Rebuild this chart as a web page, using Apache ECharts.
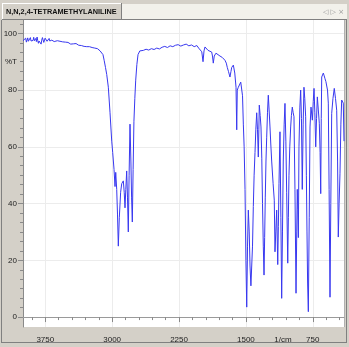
<!DOCTYPE html>
<html><head><meta charset="utf-8">
<script src="https://cdn.jsdelivr.net/npm/echarts@6/dist/echarts.min.js"></script>
<style>html,body{margin:0;padding:0;background:#d4d0c8;}#c{width:349px;height:347px;}</style>
</head><body><div id="c"></div>
<script>
const chartTitle = 'N,N,2,4-TETRAMETHYLANILINE';
const yAxisTitle = '%T';
const xAxisUnit = '1/cm';
const xTickLabels = [3750, 3000, 2250, 1500, 750];
const yTickLabels = [0, 20, 40, 60, 80, 100];
const wavenumber = [
4000,3992,3985,3978,3970,3962,3955,3947,3940,3932,3925,3917,3910,3902,3895,3887,3880,3872,3865,3857,
3850,3842,3835,3827,3820,3812,3805,3797,3790,3782,3775,3767,3760,3752,3745,3737,3730,3722,3715,3707,
3700,3692,3685,3677,3670,3660,3650,3640,3628,3615,3600,3585,3570,3555,3540,3525,3510,3495,3480,3465,
3450,3435,3420,3405,3390,3375,3360,3345,3330,3315,3300,3285,3270,3255,3240,3225,3210,3195,3180,3165,
3150,3135,3120,3103,3090,3075,3061,3043,3024,3005,2994,2979,2968,2960,2949,2940,2931,2920,2905,2893,
2875,2865,2856,2847,2837,2828,2819,2810,2800,2790,2782,2774,2765,2756,2746,2736,2723,2710,2690,2669,
2650,2620,2590,2560,2530,2500,2470,2440,2410,2380,2350,2320,2290,2260,2230,2200,2170,2140,2110,2080,
2050,2030,2015,1995,1981,1970,1959,1945,1925,1905,1884,1875,1866,1855,1836,1815,1791,1765,1750,1735,
1720,1709,1695,1679,1668,1659,1641,1625,1611,1603,1597,1585,1574,1558,1547,1538,1529,1520,1510,1500,
1491,1482,1473,1463,1454,1444,1435,1426,1417,1408,1398,1389,1379,1370,1361,1355,1350,1340,1331,1322,
1314,1305,1297,1290,1283,1275,1267,1258,1249,1240,1230,1221,1211,1195,1182,1174,1165,1155,1143,1136,
1129,1118,1108,1099,1090,1081,1071,1062,1052,1043,1031,1024,1017,1008,998,990,980,970,961,950,
938,930,924,918,912,905,895,886,877,868,858,849,840,830,822,815,808,800,790,781,
770,755,745,736,727,717,708,699,688,677,668,661,655,650,641,632,622,613,603,594,
585,576,567,557,548,538,524,509,495,482,472,464,455,445,435,426,417,408,400
];
const transmittance = [
97.4,98.1,97.0,97.8,98.3,96.9,97.6,98.4,97.2,96.6,97.9,98.5,97.3,97.8,96.7,97.5,98.6,97.4,96.8,98.2,
97.1,98.7,97.5,96.5,97.3,98.0,96.9,96.2,97.6,98.5,97.7,96.8,97.4,98.3,97.6,98.5,97.2,96.7,97.8,98.2,
97.3,97.9,97.0,97.6,97.2,97.7,97.1,97.5,97.0,97.4,96.9,97.2,96.8,97.0,96.7,96.9,96.5,96.8,96.6,96.2,
96.5,96.3,96.0,96.4,96.1,95.8,96.0,95.7,95.9,95.4,95.7,95.3,94.9,95.3,94.8,95.0,94.6,94.8,94.9,94.6,
94.2,93.8,93.3,92.5,90.5,88.0,85.5,81.0,72.0,62.0,58.0,52.0,46.0,51.0,45.0,36.0,25.0,35.0,44.0,47.0,
48.0,44.0,38.5,45.0,51.5,42.0,30.0,50.0,68.0,55.0,42.0,33.5,52.0,69.0,77.0,83.5,89.0,92.5,93.8,94.1,
94.0,94.4,94.1,94.6,94.3,94.8,94.5,95.1,95.4,95.0,95.6,95.3,95.8,96.0,95.5,95.9,96.2,95.6,95.9,95.3,
95.7,94.8,94.2,93.5,90.0,93.8,95.2,94.7,94.0,93.8,93.4,92.0,89.5,92.0,93.0,92.6,92.0,91.5,91.0,90.5,
89.5,88.0,86.5,84.6,86.5,88.0,88.8,86.0,81.0,66.0,80.0,81.0,81.7,82.8,82.5,78.0,68.0,60.0,45.0,20.0,
3.5,25.0,37.7,30.0,18.0,11.0,10.7,25.0,39.0,50.0,58.0,66.0,72.0,66.0,56.4,66.0,74.7,71.0,67.0,56.0,
40.0,25.0,14.8,28.0,42.0,55.0,63.4,72.0,78.2,73.0,67.0,61.0,55.0,47.0,41.2,23.0,30.0,37.7,18.5,32.0,
47.0,65.3,35.0,6.6,30.0,55.0,68.0,75.3,62.0,44.0,19.0,35.0,50.0,60.0,67.0,71.0,74.0,72.0,70.6,45.0,
8.4,30.0,45.0,38.0,28.0,60.0,74.0,80.0,70.0,45.0,68.0,81.0,77.0,70.6,50.0,30.0,12.0,1.9,35.0,67.0,
74.0,69.4,76.0,80.6,72.0,60.0,70.0,77.6,73.0,68.3,58.0,43.5,70.0,84.6,85.0,86.0,85.0,84.0,83.0,83.5,
80.0,75.4,45.0,7.0,40.0,71.8,77.0,80.6,77.0,72.9,55.0,28.2,40.0,50.7,68.0,76.5,76.0,75.4,62.0
];

const X_MIN = 400, X_MAX = 4000, Y_MIN = -3.5, Y_MAX = 104.7;
// minor tick positions: 5 per major x step, 6 per major y step
const xMinor = [];
for (let v = 750 - 150 * 2; v <= X_MAX; v += 150) if (v >= X_MIN) xMinor.push(v);
const yMinor = [];
for (let k = 0; k * 20 / 6 <= Y_MAX; k++) yMinor.push(Math.round(k * 20 / 6 * 1000) / 1000);

const seriesData = wavenumber.map((w, i) => [w, transmittance[i]]);
const chart = echarts.init(document.getElementById('c'), null, {renderer: 'canvas'});
const labelFont = 'Liberation Sans';
const tickColor = '#8a8a8a';
const plain = v => String(v);
chart.setOption({
  animation: false,
  backgroundColor: '#d4d0c8',
  grid: {left: 23, right: 5, top: 20, bottom: 20, show: true, backgroundColor: '#ffffff', borderWidth: 0},
  xAxis: [{
    type: 'value', min: X_MIN, max: X_MAX, inverse: true, position: 'bottom',
    axisLine: {show: true, lineStyle: {color: '#9a9a9a', width: 1}},
    axisTick: {show: true, length: 5, customValues: xTickLabels, lineStyle: {color: tickColor}},
    axisLabel: {fontSize: 8, fontFamily: labelFont, color: '#222', margin: 9, customValues: xTickLabels, formatter: plain},
    splitLine: {show: true, lineStyle: {color: '#ececec', width: 1}}
  }, {
    type: 'value', min: X_MIN, max: X_MAX, inverse: true, position: 'bottom',
    axisLine: {show: false},
    axisTick: {show: true, length: 3, customValues: xMinor, lineStyle: {color: tickColor}},
    axisLabel: {show: false},
    splitLine: {show: false}
  }],
  yAxis: [{
    type: 'value', min: Y_MIN, max: Y_MAX, position: 'left',
    axisLine: {show: true, lineStyle: {color: '#8a8a8a', width: 1}},
    axisTick: {show: true, length: 5, customValues: yTickLabels, lineStyle: {color: tickColor}},
    axisLabel: {fontSize: 8, fontFamily: labelFont, color: '#222', margin: 6, customValues: yTickLabels, formatter: plain},
    splitLine: {show: true, lineStyle: {color: '#ececec', width: 1}}
  }, {
    type: 'value', min: Y_MIN, max: Y_MAX, position: 'left',
    axisLine: {show: false},
    axisTick: {show: true, length: 3, customValues: yMinor, lineStyle: {color: tickColor}},
    axisLabel: {show: false},
    splitLine: {show: false}
  }],
  graphic: [
    {type: 'rect', shape: {x: 121, y: 4, width: 226, height: 15}, style: {fill: '#f2f1eb'}, silent: true},
    {type: 'line', shape: {x1: 2, y1: 3.5, x2: 121, y2: 3.5}, style: {stroke: '#ffffff', lineWidth: 1}},
    {type: 'line', shape: {x1: 2.5, y1: 3, x2: 2.5, y2: 20}, style: {stroke: '#ffffff', lineWidth: 1}},
    {type: 'line', shape: {x1: 121.5, y1: 3, x2: 121.5, y2: 20}, style: {stroke: '#808080', lineWidth: 1}},
    {type: 'line', shape: {x1: 2, y1: 19.5, x2: 347, y2: 19.5}, style: {stroke: '#808080', lineWidth: 1}},
    {type: 'line', shape: {x1: 344.5, y1: 20, x2: 344.5, y2: 327}, style: {stroke: '#b0b0b0', lineWidth: 1}},
    {type: 'line', shape: {x1: 1.5, y1: 20, x2: 1.5, y2: 343}, style: {stroke: '#808080', lineWidth: 1}},
    {type: 'line', shape: {x1: 1, y1: 342.5, x2: 347, y2: 342.5}, style: {stroke: '#808080', lineWidth: 1}},
    {type: 'line', shape: {x1: 346.5, y1: 20, x2: 346.5, y2: 343}, style: {stroke: '#808080', lineWidth: 1}},
    {type: 'text', x: 6, y: 12, style: {text: chartTitle, fontSize: 7.3, fontWeight: 'bold', fontFamily: labelFont, fill: '#111', verticalAlign: 'middle'}},
    {type: 'text', x: 323, y: 12, style: {text: '◁ ▷ ×', fontSize: 7, fontFamily: 'DejaVu Sans', fill: '#999', verticalAlign: 'middle'}},
    {type: 'text', x: 5, y: 62, style: {text: yAxisTitle, fontSize: 8, fontFamily: labelFont, fill: '#222', verticalAlign: 'middle'}},
    {type: 'text', x: 283, y: 340, style: {text: xAxisUnit, fontSize: 8, fontFamily: labelFont, fill: '#222', align: 'center', verticalAlign: 'middle'}}
  ],
  series: [{
    type: 'line', data: seriesData, showSymbol: false, symbol: 'none', xAxisIndex: 0, yAxisIndex: 0,
    lineStyle: {color: '#3838f0', width: 1}, clip: true
  }]
});
</script></body></html>
